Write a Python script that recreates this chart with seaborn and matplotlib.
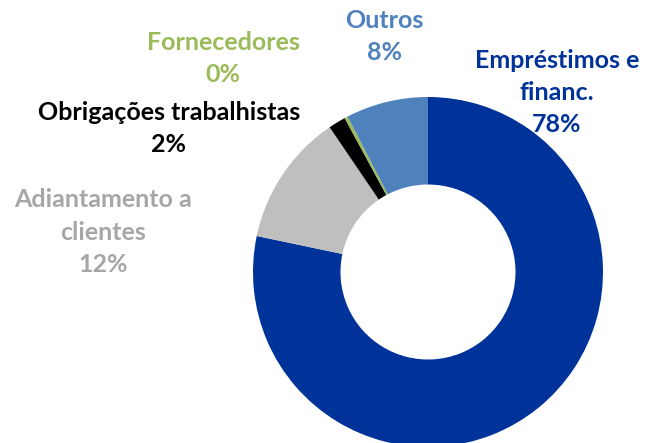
import matplotlib
matplotlib.use("Agg")
import matplotlib.pyplot as plt
import seaborn as sns

categories = ["Empréstimos e\nfinanc.", "Adiantamento a\nclientes", "Obrigações trabalhistas", "Fornecedores", "Outros"]
values = [78.3, 12.2, 1.6, 0.3, 7.6]
pct_labels = ["78%", "12%", "2%", "0%", "8%"]
colors = ["#003399", "#BFBFBF", "#000000", "#9BBB59", "#4F81BD"]
text_colors = ["#003399", "#A6A6A6", "#000000", "#9BBB59", "#4F81BD"]

sns.set_theme(style="white")
plt.rcParams['font.family'] = ['Lato', 'DejaVu Sans']

W, H = 652, 443
fig = plt.figure(figsize=(W / 100, H / 100), dpi=100)
fig.patch.set_facecolor("white")

cx, cy, R = 428, 272, 175
ax = fig.add_axes([(cx - R) / W, (H - cy - R) / H, 2 * R / W, 2 * R / H])
ax.pie(values, colors=colors, startangle=90, counterclock=False,
       wedgeprops=dict(width=0.5, edgecolor="none"), radius=1)
ax.set_xlim(-1, 1)
ax.set_ylim(-1, 1)
ax.set_aspect("equal")
ax.axis("off")

# label positions (pixel centers of first line), line spacing
positions = [(557, 60), (103, 200), (169, 113), (223, 42), (384, 20)]
lh = 32
for cat, pct, col, (x, y) in zip(categories, pct_labels, text_colors, positions):
    lines = cat.split("\n") + [pct]
    for i, line in enumerate(lines):
        fig.text(x / W, 1 - (y + i * lh) / H, line, ha="center", va="center",
                 color=col, fontsize=18, fontweight="bold")

fig.savefig("out.png", dpi=100)
